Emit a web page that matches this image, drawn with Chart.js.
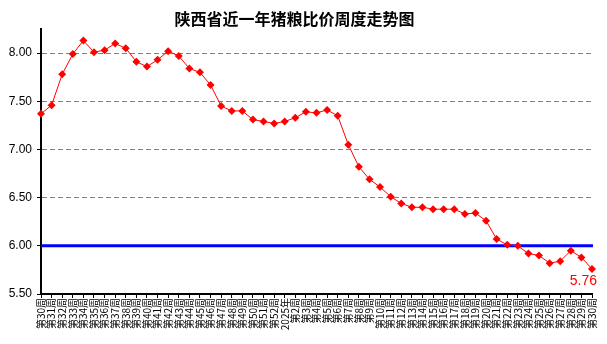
<!DOCTYPE html>
<html>
<head>
<meta charset="utf-8">
<script src="https://cdn.jsdelivr.net/npm/chart.js@4"></script>
<style>
    body { margin: 0; background: #fff; }
    #wrap { position: relative; width: 607px; height: 344px; }
    #title {
        position: absolute; left: 0; top: 10px; width: 589px;
        text-align: center; font: bold 16px "Noto Sans CJK SC", sans-serif;
        line-height: 16px; color: #000;
    }
</style>
</head>
<body>
<div id="wrap">
    <div id="title">陕西省近一年猪粮比价周度走势图</div>
    <canvas id="chart" width="607" height="344"></canvas>
</div>
<script>
// week labels along the x axis
const weeks = [
    '第30周', '第31周', '第32周', '第33周', '第34周', '第35周', '第36周', '第37周',
    '第38周', '第39周', '第40周', '第41周', '第42周', '第43周', '第44周', '第45周',
    '第46周', '第47周', '第48周', '第49周', '第50周', '第51周', '第52周', '2025年',
    '第2周', '第3周', '第4周', '第5周', '第6周', '第7周', '第8周', '第9周',
    '第10周', '第11周', '第12周', '第13周', '第14周', '第15周', '第16周', '第17周',
    '第18周', '第19周', '第20周', '第21周', '第22周', '第23周', '第24周', '第25周',
    '第26周', '第27周', '第28周', '第29周', '第30周'
];

// pig-grain price ratio
const ratio = [
    7.37, 7.46, 7.78, 7.99, 8.13, 8.01, 8.03, 8.10,
    8.05, 7.91, 7.86, 7.93, 8.02, 7.97, 7.84, 7.80,
    7.67, 7.45, 7.40, 7.40, 7.31, 7.29, 7.27, 7.29,
    7.33, 7.39, 7.38, 7.41, 7.35, 7.05, 6.82, 6.69,
    6.61, 6.51, 6.44, 6.40, 6.40, 6.38, 6.38, 6.38,
    6.33, 6.34, 6.26, 6.07, 6.01, 6.00, 5.92, 5.90,
    5.82, 5.84, 5.95, 5.88, 5.76
];

const yTicks = [5.5, 6.0, 6.5, 7.0, 7.5, 8.0];
const yMin = 5.5;
const yMax = 8.25;
const warnLine = 6.0;

// blue reference line at 6.00
const warnLinePlugin = {
    id: 'warnLine',
    beforeDatasetsDraw(chart) {
        const { ctx, chartArea, scales } = chart;
        const y = scales.y.getPixelForValue(warnLine);
        ctx.save();
        ctx.strokeStyle = '#0000ff';
        ctx.lineWidth = 3;
        ctx.beginPath();
        ctx.moveTo(chartArea.left, y);
        ctx.lineTo(chartArea.right + 1, y);
        ctx.stroke();
        ctx.restore();
    }
};

// red value label under the last point
const lastLabelPlugin = {
    id: 'lastLabel',
    afterDatasetsDraw(chart) {
        const { ctx } = chart;
        const meta = chart.getDatasetMeta(0);
        const pt = meta.data[meta.data.length - 1];
        ctx.save();
        ctx.fillStyle = '#ff0000';
        ctx.font = '14px "Liberation Sans", sans-serif';
        ctx.textAlign = 'right';
        ctx.textBaseline = 'middle';
        ctx.fillText(ratio[ratio.length - 1].toFixed(2), pt.x + 5, pt.y + 12);
        ctx.restore();
    }
};

new Chart(document.getElementById('chart').getContext('2d'), {
    type: 'line',
    data: {
        labels: weeks,
        datasets: [{
            data: ratio,
            borderColor: '#ff0000',
            borderWidth: 1,
            backgroundColor: '#ff0000',
            pointStyle: 'rectRot',
            pointRadius: 4,
            pointBorderWidth: 0,
            pointBackgroundColor: '#ff0000',
            tension: 0
        }]
    },
    options: {
        responsive: false,
        animation: false,
        layout: { padding: { top: 29, right: 15, left: 0, bottom: 0 } },
        plugins: {
            legend: { display: false },
            title: { display: false },
            tooltip: { enabled: false }
        },
        scales: {
            x: {
                offset: false,
                afterFit(scale) { scale.height = 50; },
                border: { color: '#000', width: 2 },
                grid: {
                    drawOnChartArea: false,
                    drawTicks: true,
                    tickLength: 4,
                    tickColor: '#000'
                },
                ticks: {
                    autoSkip: false,
                    minRotation: 90,
                    maxRotation: 90,
                    padding: 0,
                    color: '#000',
                    font: { family: '"Noto Sans CJK SC", sans-serif', size: 10 }
                }
            },
            y: {
                min: yMin,
                max: yMax,
                afterFit(scale) { scale.width = 41; },
                afterBuildTicks(scale) {
                    scale.ticks = yTicks.map(v => ({ value: v }));
                },
                border: { color: '#000', width: 2, dash: [5, 3] },
                grid: {
                    color: '#808080',
                    lineWidth: 1,
                    tickLength: 4,
                    tickColor: '#000',
                    tickBorderDash: []
                },
                ticks: {
                    padding: 5,
                    color: '#000',
                    font: { family: '"Liberation Sans", sans-serif', size: 12 },
                    callback: v => Number(v).toFixed(2)
                }
            }
        }
    },
    plugins: [warnLinePlugin, lastLabelPlugin]
});
</script>
</body>
</html>
